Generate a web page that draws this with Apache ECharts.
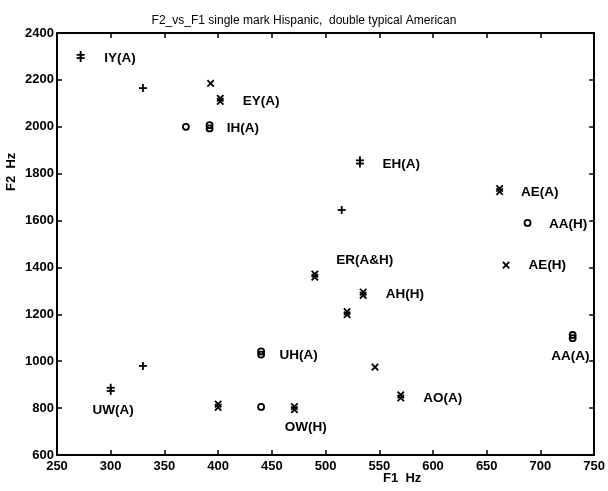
<!DOCTYPE html>
<html>
<head>
<meta charset="utf-8">
<script src="https://cdn.jsdelivr.net/npm/echarts/dist/echarts.min.js"></script>
<style>
  html, body { margin: 0; padding: 0; background: #fff; }
  #chart { width: 608px; height: 491px; }
</style>
</head>
<body>
<div id="chart"></div>
<script>
// Formant measurements (Hz): F1 on x, F2 on y
const f1 = [272, 330, 393, 402, 370, 392, 532, 515, 662, 688, 668, 490, 535, 520, 730, 440, 330, 300, 400, 440, 471, 546, 570];
const f2 = [2300, 2165, 2185, 2115, 2000, 2000, 1850, 1645, 1730, 1590, 1410, 1365, 1288, 1205, 1105, 1035, 980, 880, 810, 805, 800, 975, 850];
// mark shape per point, and whether it is drawn doubled (typical American) or single (Hispanic)
const markKind = ['plus', 'plus', 'cross', 'cross', 'circle', 'circle', 'plus', 'plus', 'cross', 'circle', 'cross', 'cross',
                  'cross', 'cross', 'circle', 'circle', 'plus', 'plus', 'cross', 'circle', 'cross', 'cross', 'cross'];
const markDouble = [1, 0, 0, 1, 0, 1, 1, 0, 1, 0, 0, 1, 1, 1, 1, 1, 0, 1, 1, 0, 1, 0, 1];

// Vowel annotations, anchored at F1/F2 positions (left edge, vertical middle)
const labelText = ['IY(A)', 'EY(A)', 'IH(A)', 'EH(A)', 'AE(A)', 'AA(H)', 'AE(H)', 'ER(A&H)', 'AH(H)', 'AA(A)', 'AO(A)', 'UH(A)', 'UW(A)', 'OW(H)'];
const labelF1 = [294, 423, 408, 553, 682, 708, 689, 510, 556, 710, 591, 457, 283, 462];
const labelF2 = [2293, 2107, 1993, 1840, 1719, 1585, 1410, 1432, 1285, 1019, 842, 1026, 792, 720];

// Axis ticks
const f1Ticks = [250, 300, 350, 400, 450, 500, 550, 600, 650, 700, 750];
const f2Ticks = [600, 800, 1000, 1200, 1400, 1600, 1800, 2000, 2200, 2400];

const FONT = '"Liberation Sans", Arial, Helvetica, sans-serif';
const INK = '#000';

function markShapes(kind, cx, cy) {
  if (kind === 'plus') {
    const r = 4;
    return [
      { type: 'line', shape: { x1: cx - r, y1: cy, x2: cx + r, y2: cy } },
      { type: 'line', shape: { x1: cx, y1: cy - r, x2: cx, y2: cy + r } }
    ];
  }
  if (kind === 'cross') {
    const r = 3.2;
    return [
      { type: 'line', shape: { x1: cx - r, y1: cy - r, x2: cx + r, y2: cy + r } },
      { type: 'line', shape: { x1: cx - r, y1: cy + r, x2: cx + r, y2: cy - r } }
    ];
  }
  return [{ type: 'circle', shape: { cx: cx, cy: cy, r: 3 } }];
}

function renderMark(params, api) {
  const i = api.value(2);
  const p = api.coord([api.value(0), api.value(1)]);
  const offs = markDouble[i] ? [-1.6, 1.6] : [0];
  let children = [];
  offs.forEach(function (dy) {
    children = children.concat(markShapes(markKind[i], p[0], p[1] + dy));
  });
  children.forEach(function (c) {
    c.style = { stroke: INK, fill: 'none', lineWidth: 1.8 };
  });
  return { type: 'group', children: children };
}

function renderLabel(params, api) {
  const i = api.value(2);
  const p = api.coord([api.value(0), api.value(1)]);
  return {
    type: 'text',
    x: p[0],
    y: p[1],
    style: {
      text: labelText[i],
      fill: INK,
      font: 'bold 13.5px ' + FONT,
      align: 'left',
      verticalAlign: 'middle',
      textAlign: 'left',
      textVerticalAlign: 'middle'
    }
  };
}

function plainNumber(v) { return String(v); }

function xAxisDef(pos) {
  return {
    type: 'value',
    position: pos,
    min: f1Ticks[0],
    max: f1Ticks[f1Ticks.length - 1],
    interval: f1Ticks[1] - f1Ticks[0],
    axisLine: { show: true, onZero: false, lineStyle: { color: INK, width: 2 } },
    axisTick: { show: true, inside: true, length: 5, lineStyle: { color: INK, width: 1.5 } },
    axisLabel: {
      show: pos === 'bottom', color: INK, margin: 5, formatter: plainNumber,
      fontFamily: FONT, fontSize: 13, fontWeight: 'bold'
    },
    splitLine: { show: false }
  };
}

function yAxisDef(pos) {
  return {
    type: 'value',
    position: pos,
    min: f2Ticks[0],
    max: f2Ticks[f2Ticks.length - 1],
    interval: f2Ticks[1] - f2Ticks[0],
    axisLine: { show: true, onZero: false, lineStyle: { color: INK, width: 2 } },
    axisTick: { show: true, inside: true, length: 5, lineStyle: { color: INK, width: 1.5 } },
    axisLabel: {
      show: pos === 'left', color: INK, margin: 3, formatter: plainNumber,
      fontFamily: FONT, fontSize: 13, fontWeight: 'bold'
    },
    splitLine: { show: false }
  };
}

const chart = echarts.init(document.getElementById('chart'), null, { renderer: 'canvas' });

chart.setOption({
  backgroundColor: '#fff',
  animation: false,
  title: {
    text: 'F2_vs_F1 single mark Hispanic,  double typical American',
    left: 'center',
    top: 10,
    textStyle: { color: INK, fontFamily: FONT, fontSize: 12, fontWeight: 'normal' }
  },
  grid: { left: 57, right: 13, top: 33, bottom: 36, containLabel: false },
  xAxis: [xAxisDef('bottom'), xAxisDef('top')],
  yAxis: [yAxisDef('left'), yAxisDef('right')],
  graphic: [
    {
      type: 'text', left: 383, top: 472,
      style: { text: 'F1  Hz', fill: INK, font: 'bold 13px ' + FONT }
    },
    {
      type: 'text', x: 5, y: 191, rotation: Math.PI / 2,
      style: { text: 'F2  Hz', fill: INK, font: 'bold 13px ' + FONT }
    }
  ],
  series: [
    {
      name: 'marks',
      type: 'custom',
      xAxisIndex: 0,
      yAxisIndex: 0,
      renderItem: renderMark,
      data: f1.map(function (v, i) { return [v, f2[i], i]; }),
      clip: true
    },
    {
      name: 'vowels',
      type: 'custom',
      xAxisIndex: 0,
      yAxisIndex: 0,
      renderItem: renderLabel,
      data: labelF1.map(function (v, i) { return [v, labelF2[i], i]; })
    }
  ]
});
</script>
</body>
</html>
